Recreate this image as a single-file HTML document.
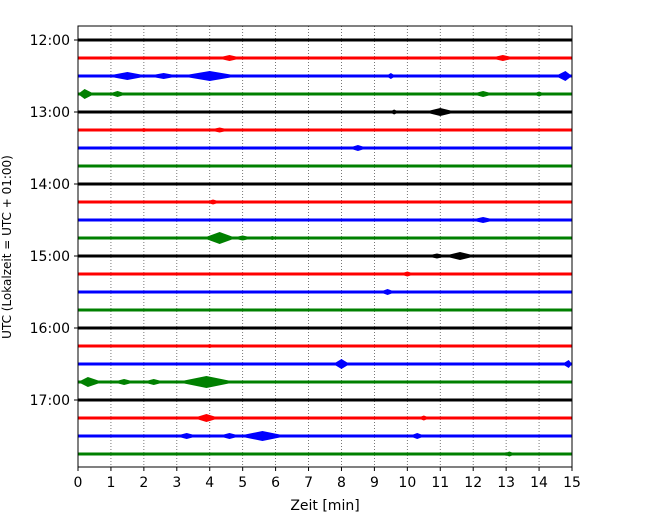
<!DOCTYPE html>
<html><head><meta charset="utf-8"><style>
body{margin:0;background:#fff;}
svg text{font-family:"DejaVu Sans","Liberation Sans",sans-serif;fill:#000;}
</style></head><body>
<svg id="chart" width="650" height="520" viewBox="0 0 650 520" xmlns="http://www.w3.org/2000/svg">
<g id="grid"></g><g id="traces"></g><g id="axes"></g>
</svg>
<script>
const traceLabels = ["12:00","","","","13:00","","","","14:00","","","","15:00","","","","16:00","","","","17:00","","",""];
const xTicks = [0,1,2,3,4,5,6,7,8,9,10,11,12,13,14,15];
const traceColors = ["#000000","#ff0000","#0000ff","#008000"];
// events: trace index, center minute, amplitude (px), width (minutes)
const evTrace = [1,1,2,2,2,2,2,3,3,3,3,4,4,5,5,6,9,10,11,11,11,12,12,13,14,17,18,18,19,19,19,19,21,21,22,22,22,22,23];
const evMinute = [4.6,12.9,1.5,2.6,4.0,9.5,14.8,0.2,1.2,12.3,14.0,11.0,9.6,4.3,2.0,8.5,4.1,12.3,4.3,5.0,5.9,11.6,10.9,10.0,9.4,4.0,8.0,14.9,0.3,1.4,2.3,3.9,3.9,10.5,3.3,4.6,5.6,10.3,13.1];
const evAmp = [3,3,4,3,5,3,5,5,3,3,2.5,4,2.5,2.5,2,3,2.5,3,6,2.5,2,4,2.5,2.5,3,2,5,4,5,3,3,6,4,2.5,3,3,5,3,2.5];
const evWidth = [0.8,0.8,1.3,1.0,1.8,0.3,0.6,0.6,0.6,0.7,0.4,1.0,0.3,0.7,0.4,0.6,0.5,0.8,1.0,0.7,0.4,1.0,0.7,0.5,0.5,0.4,0.5,0.4,0.9,0.7,0.7,1.8,0.8,0.4,0.7,0.7,1.5,0.5,0.4];

const X0=78,X1=572,Y0=26,Y1=467;
const xs = m => X0 + (m/15)*(X1-X0);
const ys = i => 40 + i*18;
const NS="http://www.w3.org/2000/svg";
function mk(tag,attrs,parent){const e=document.createElementNS(NS,tag);for(const k in attrs)e.setAttribute(k,attrs[k]);parent.appendChild(e);return e;}
const grid=document.getElementById('grid'),tr=document.getElementById('traces'),ax=document.getElementById('axes');
xTicks.forEach(t=>{ if(t>0&&t<15){
  const l=mk('line',{x1:xs(t),x2:xs(t),y1:Y0,y2:Y1,stroke:'#555','stroke-width':0.8,'stroke-dasharray':'1,2'},grid);
  
  
}});
traceLabels.forEach((lab,i)=>{
  const l=mk('line',{x1:X0,x2:X1,y1:ys(i),y2:ys(i),stroke:traceColors[i%4],'stroke-width':3},tr);
  
  
});
evTrace.forEach((t,k)=>{
  const c=xs(evMinute[k]), w=(evWidth[k]/15)*(X1-X0)/2, a=evAmp[k], y=ys(t);
  const x0=Math.max(X0,c-w), x1=Math.min(X1,c+w);
  const d=`M${x0},${y} L${c},${y-a} L${x1},${y} L${c},${y+a} Z`;
  const p=mk('path',{d:d,fill:traceColors[t%4]},tr);
  
  
});
const frame=mk('rect',{x:X0,y:Y0,width:X1-X0,height:Y1-Y0,fill:'none',stroke:'#000','stroke-width':1},ax);


xTicks.forEach(t=>{
  mk('line',{x1:xs(t),x2:xs(t),y1:Y1,y2:Y1+4,stroke:'#000'},ax);
  const tx=mk('text',{x:xs(t),y:Y1+20,'text-anchor':'middle','font-size':14},ax);
  tx.textContent=t;
  
  
});
traceLabels.forEach((lab,i)=>{ if(lab){
  mk('line',{x1:X0-4,x2:X0,y1:ys(i),y2:ys(i),stroke:'#000'},ax);
  const tx=mk('text',{x:X0-8,y:ys(i)+5,'text-anchor':'end','font-size':14},ax);
  tx.textContent=lab;
  
  
}});
const xl=mk('text',{x:325,y:510,'text-anchor':'middle','font-size':14},ax);
xl.textContent='Zeit  [min]';


const yl=mk('text',{x:0,y:0,'text-anchor':'middle','font-size':12,transform:'translate(11,247) rotate(-90)'},ax);
yl.textContent='UTC (Lokalzeit = UTC + 01:00)';


</script>
</body></html>
